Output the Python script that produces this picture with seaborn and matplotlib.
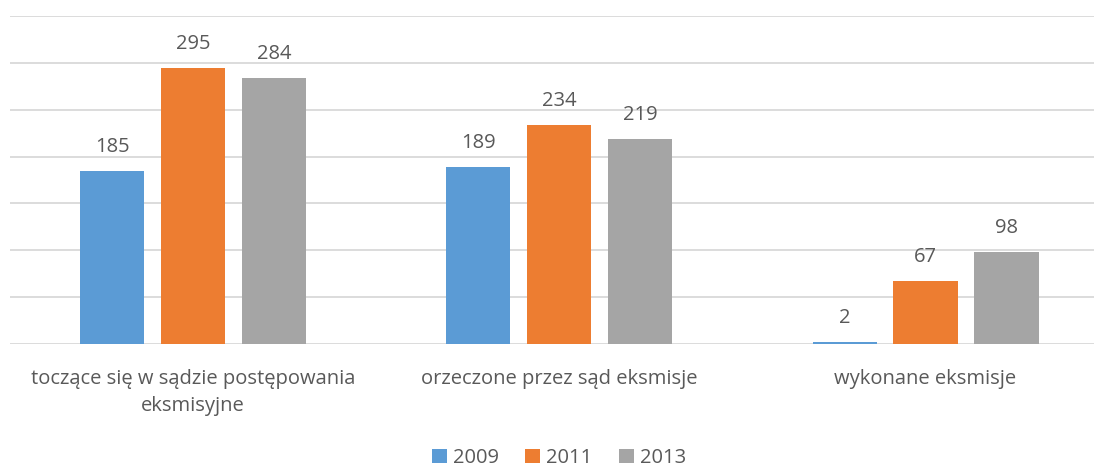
import matplotlib
matplotlib.use("Agg")
import matplotlib.pyplot as plt
import seaborn as sns
import pandas as pd
from matplotlib.patches import Patch

categories = ["toczące się w sądzie postępowania\neksmisyjne",
              "orzeczone przez sąd eksmisje",
              "wykonane eksmisje"]
years = ["2009", "2011", "2013"]
values_2009 = [185, 189, 2]
values_2011 = [295, 234, 67]
values_2013 = [284, 219, 98]
colors = ["#5B9BD5", "#ED7D31", "#A5A5A5"]

rows = []
for year, vals in zip(years, [values_2009, values_2011, values_2013]):
    for cat, v in zip(categories, vals):
        rows.append({"kategoria": cat, "rok": year, "liczba": v})
df = pd.DataFrame(rows)

sns.set_theme(style="white")
plt.rcParams["font.family"] = ["Open Sans", "DejaVu Sans"]
text_color = "#595959"
fs = 14.5

fig = plt.figure(figsize=(10.94, 4.66), dpi=100)
ax = fig.add_axes([10 / 1094, 1 - 344 / 466, 1 - 10 / 1094, (344 - 16) / 466])

sns.barplot(data=df, x="kategoria", y="liczba", hue="rok", order=categories,
            hue_order=years, palette=colors, width=0.663, gap=0.208,
            saturation=1, errorbar=None, legend=False, linewidth=0, ax=ax)

ax.set_ylim(0, 350)
ax.set_xlim(-0.5, 2.46)
ax.set_yticks(range(0, 351, 50))
ax.yaxis.grid(True, color="#d9d9d9", linewidth=1.3)
ax.set_axisbelow(True)
ax.set_yticklabels([])
ax.set_xlabel("")
ax.set_ylabel("")
for s in ax.spines.values():
    s.set_visible(False)
ax.tick_params(axis="both", length=0)
ax.tick_params(axis="x", pad=18, labelsize=fs, labelcolor=text_color)
for lbl in ax.get_xticklabels():
    lbl.set_linespacing(1.45)

for container in ax.containers:
    ax.bar_label(container, fmt="%d", padding=10, fontsize=fs, color=text_color)

handles = [Patch(facecolor=c, edgecolor="none") for c in colors]
fig.legend(handles, years, loc="center", bbox_to_anchor=(559 / 1094, 1 - 458 / 466),
           ncol=3, frameon=False, fontsize=fs, labelcolor=text_color,
           handlelength=0.75, handleheight=0.75, handletextpad=0.3, columnspacing=1.3)

fig.savefig("out.png", dpi=100)
